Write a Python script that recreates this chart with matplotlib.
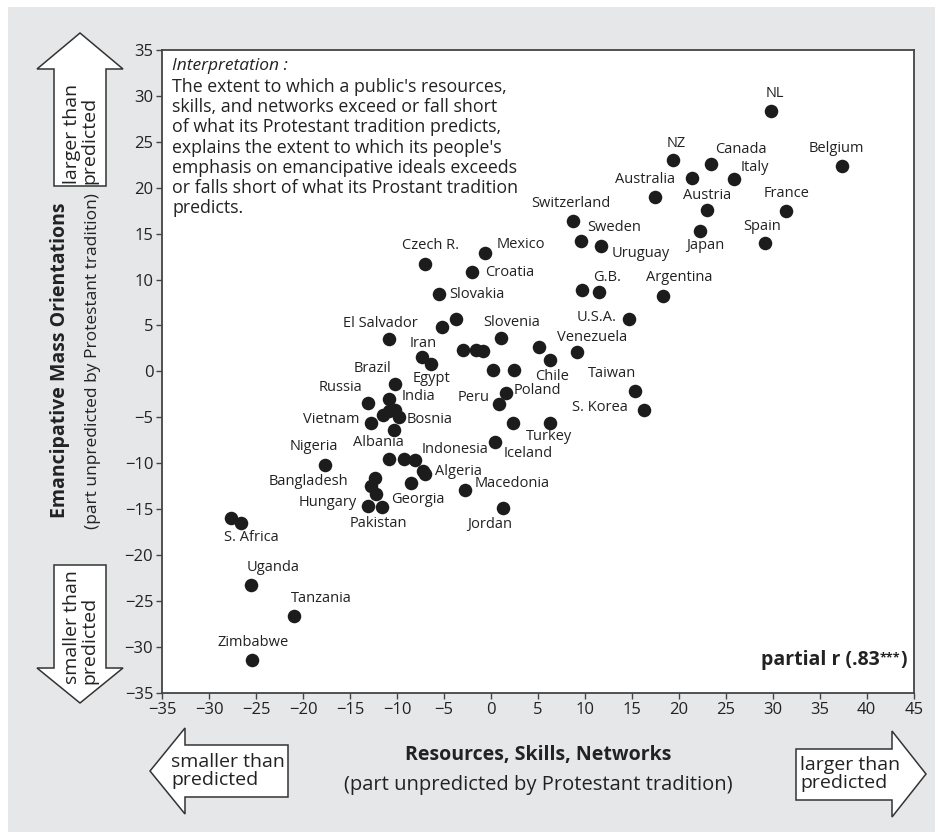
import matplotlib.pyplot as plt
from matplotlib.patches import Polygon, Rectangle

plt.rcParams['font.family'] = ['Open Sans', 'DejaVu Sans']

# Countries ('' = dot without a label), resources residual, emancipative residual
countries = [
    "NL", "Belgium", "NZ", "Canada", "", "Italy", "Australia", "Austria",
    "France", "Japan", "Spain", "Switzerland", "Sweden", "Uruguay", "", "G.B.",
    "Argentina", "U.S.A.", "Mexico", "Czech R.", "Croatia", "Slovakia", "", "",
    "El Salvador", "Slovenia", "Iran", "Egypt", "", "", "", "", "", "",
    "Chile", "Venezuela", "Taiwan", "S. Korea", "Poland", "Peru", "Iceland",
    "Turkey", "Indonesia", "Brazil", "India", "Russia", "Vietnam", "", "", "",
    "Bosnia", "", "Nigeria", "Albania", "", "", "", "Algeria", "Georgia",
    "Bangladesh", "", "", "Hungary", "Pakistan", "Macedonia", "Jordan",
    "S. Africa", "", "Uganda", "Tanzania", "Zimbabwe",
]
resources = [
    29.8, 37.4, 19.4, 23.4, 21.4, 25.9, 17.5, 23.0,
    31.4, 22.3, 29.2, 8.7, 9.55, 11.7, 9.7, 11.5,
    18.3, 14.7, -0.6, -7.0, -2.0, -5.5, -3.7, -5.2,
    -10.9, 1.1, -7.4, -6.4, -3.0, -1.6, -0.9, 0.25, 2.4, 5.1,
    6.3, 9.2, 15.3, 16.3, 1.6, 0.9, 2.3,
    6.3, 0.4, -10.2, -10.9, -13.1, -12.8, -11.5, -10.9, -10.2,
    -9.8, -10.3, -17.7, -10.9, -9.3, -8.1, -7.2, -7.0, -8.5,
    -12.4, -12.8, -12.2, -13.1, -11.6, -2.8, 1.3,
    -27.7, -26.6, -25.6, -21.0, -25.5,
]
emancipative = [
    28.4, 22.4, 23.0, 22.6, 21.1, 20.9, 19.0, 17.6,
    17.5, 15.3, 14.0, 16.4, 14.2, 13.7, 8.9, 8.6,
    8.2, 5.7, 12.9, 11.7, 10.8, 8.4, 5.7, 4.8,
    3.5, 3.6, 1.6, 0.8, 2.3, 2.3, 2.2, 0.2, 0.2, 2.6,
    1.2, 2.1, -2.1, -4.2, -2.4, -3.6, -5.6,
    -5.6, -7.7, -1.4, -3.0, -3.4, -5.6, -4.8, -4.3, -4.2,
    -5.0, -6.4, -10.2, -9.6, -9.5, -9.7, -10.8, -11.2, -12.2,
    -11.6, -12.5, -13.4, -14.7, -14.8, -12.9, -14.9,
    -16.0, -16.5, -23.3, -26.6, -31.4,
]

# where each label sits relative to its dot (pixels, x right / y up)
label_offsets = {
    "NL": (4, 17), "Belgium": (-6, 17), "NZ": (3, 17), "Canada": (30, 14),
    "Italy": (21, 12), "Australia": (-10, 17), "Austria": (0, 14),
    "France": (1, 17), "Japan": (5, -15), "Spain": (-3, 16),
    "Switzerland": (-2, 17), "Sweden": (33, 13), "Uruguay": (40, -8),
    "G.B.": (8, 15), "Argentina": (16, 19), "U.S.A.": (-32, 2),
    "Mexico": (35, 8), "Czech R.": (5, 18), "Croatia": (37, 0),
    "Slovakia": (38, 0), "El Salvador": (-8, 16), "Slovenia": (10, 16),
    "Iran": (2, 13), "Egypt": (1, -14), "Chile": (2, -16),
    "Venezuela": (15, 15), "Taiwan": (-23, 17), "S. Korea": (-44, 2),
    "Poland": (31, 3), "Peru": (-26, 7), "Iceland": (16, -31),
    "Turkey": (-1, -14), "Indonesia": (-40, -7), "Brazil": (-23, 16),
    "India": (30, 2), "Russia": (-27, 15), "Vietnam": (-40, 3),
    "Bosnia": (31, -2), "Nigeria": (-11, 19), "Albania": (-10, 17),
    "Algeria": (33, 3), "Georgia": (7, -16), "Bangladesh": (-66, -4),
    "Hungary": (-40, 4), "Pakistan": (-4, -16), "Macedonia": (47, 6),
    "Jordan": (-14, -16), "S. Africa": (21, -19), "Uganda": (23, 18),
    "Tanzania": (28, 17), "Zimbabwe": (2, 17),
}

interpretation = [
    "The extent to which a public's resources,",
    "skills, and networks exceed or fall short",
    "of what its Protestant tradition predicts,",
    "explains the extent to which its people's",
    "emphasis on emancipative ideals exceeds",
    "or falls short of what its Prostant tradition",
    "predicts.",
]

W, H = 941, 836
ink = '#222222'


def fx(x):
    return x / W


def fy(y):
    return 1 - y / H


fig = plt.figure(figsize=(W / 100, H / 100), dpi=100)
fig.patch.set_facecolor('white')
fig.add_artist(Rectangle((fx(8), fy(832)), fx(935) - fx(8), fy(7) - fy(832),
                         transform=fig.transFigure, facecolor='#e6e7e9',
                         edgecolor='none', zorder=-10))

ax = fig.add_axes([fx(162.3), fy(692.7), (913.7 - 162.3) / W, (692.7 - 50) / H])
ax.set_facecolor('white')
ax.scatter(resources, emancipative, s=95, color='#1c1c1c', linewidths=0, zorder=3)

for name, x, y in zip(countries, resources, emancipative):
    if name:
        dx, dy = label_offsets[name]
        ax.annotate(name, (x, y), xytext=(dx, dy), textcoords='offset pixels',
                    ha='center', va='center', fontsize=10.5, color=ink)

ax.set_xlim(-35, 45)
ax.set_ylim(-35, 35)
ax.set_xticks(range(-35, 46, 5))
ax.set_yticks(range(-35, 36, 5))
ax.tick_params(direction='out', length=4, width=1, color='#444444',
               labelsize=12, labelcolor=ink, pad=2.5)
for s in ax.spines.values():
    s.set_color('#444444')
    s.set_linewidth(1.3)

# interpretation text, one line at a time
fig.text(fx(172), fy(66), 'Interpretation :', fontsize=12.5, style='italic',
         ha='left', va='center', color=ink)
for i, line in enumerate(interpretation):
    fig.text(fx(172), fy(87 + 20.2 * i), line, fontsize=12.8, ha='left',
             va='center', color=ink)

# partial r with superscript stars
t_close = fig.text(fx(907), fy(660), ')', fontsize=14, fontweight='bold',
                   ha='right', va='center', color=ink)
t_star = ax.annotate('***', xy=(0, 0.95), xycoords=t_close, fontsize=9,
                     fontweight='bold', ha='right', va='top', color=ink)
ax.annotate('partial r (.83', xy=(0, 0), xycoords=(t_star, t_close),
            fontsize=14, fontweight='bold', ha='right', va='bottom', color=ink)

# axis titles
fig.text(fx(538), fy(755), 'Resources, Skills, Networks', fontsize=14,
         fontweight='bold', ha='center', va='center', color=ink)
fig.text(fx(538), fy(785), '(part unpredicted by Protestant tradition)',
         fontsize=14.5, ha='center', va='center', color=ink)
fig.text(fx(60), fy(360), 'Emancipative Mass Orientations', fontsize=14,
         fontweight='bold', rotation=90, ha='center', va='center', color=ink)
fig.text(fx(93), fy(361), '(part unpredicted by Protestant tradition)',
         fontsize=12.5, rotation=90, ha='center', va='center', color=ink)


# direction arrows (outline shapes in pixel space)
def arrow(pts, label, tx, ty, rot):
    fig.add_artist(Polygon([(fx(a), fy(b)) for a, b in pts], closed=True,
                           transform=fig.transFigure, facecolor='white',
                           edgecolor='#333333', linewidth=1.1))
    fig.text(fx(tx), fy(ty), label, fontsize=14, rotation=rot,
             rotation_mode='anchor', ha='left', va='center', color=ink,
             linespacing=0.95)


arrow([(80, 33), (123, 69), (106, 69), (106, 186), (54, 186), (54, 69), (37, 69)],
      'larger than\npredicted', 81, 184, 90)
arrow([(80, 703), (123, 668), (106, 668), (106, 565), (54, 565), (54, 668), (37, 668)],
      'smaller than\npredicted', 81, 684, 90)
arrow([(150, 771), (185, 728), (185, 745), (288, 745), (288, 797), (185, 797), (185, 814)],
      'smaller than\npredicted', 171, 771, 0)
arrow([(926, 774), (892, 731), (892, 749), (796, 749), (796, 800), (892, 800), (892, 817)],
      'larger than\npredicted', 800, 774, 0)

plt.savefig('out.png', dpi=100)
